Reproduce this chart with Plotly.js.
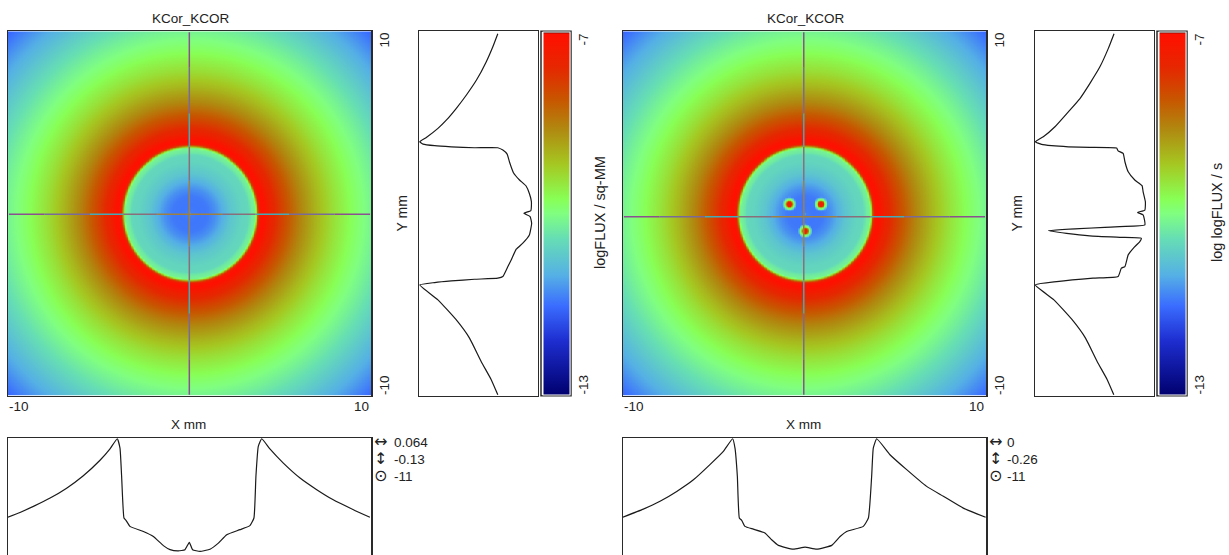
<!DOCTYPE html>
<html><head><meta charset="utf-8">
<script src="https://cdn.plot.ly/plotly-3.0.1.min.js"></script>
<style>html,body{margin:0;padding:0;background:#fff;overflow:hidden}#c{width:1229px;height:555px}</style>
</head><body><div id="c"></div>
<script>
// Radial flux table (mm, log flux)
const radiusMm = [0,0.1,0.5,1.0,1.4,1.8,2.2,2.8,3.2,3.38,3.58,3.66,3.74,3.82,4.0,4.4,5.2,6.1,7.0,7.9,9.0,10,11,12,13,14.2];
const radiusFlux = [-11.15,-11.4,-11.45,-11.42,-11.25,-11.0,-10.75,-10.55,-10.5,-10.25,-10.15,-9.3,-8.0,-7.3,-7.03,-7.43,-7.99,-8.58,-9.04,-9.44,-9.83,-10.13,-10.45,-10.8,-11.15,-11.6];
// Spots of the second map (mm)
const spotX = [-0.87,0.87,0];
const spotY = [0.54,0.54,-0.94];
const spotRadius = [0,0.13,0.19,0.24,0.31];
const spotFlux = [-7.3,-7.5,-9.0,-9.9,-10.3];

// Left map cross sections
const leftBottomX = [-10.02,-9.34,-8.6,-7.68,-6.77,-5.85,-4.93,-4.38,-3.98,-3.83,-3.74,-3.61,-3.5,-3.28,-2.54,-1.99,-1.44,-1.07,-0.62,-0.25,-0.01,0.17,0.58,1.13,1.59,2.05,2.78,3.33,3.55,3.66,3.79,3.98,4.43,5.17,6.09,7.01,7.92,9.03,9.94];
const leftBottomV = [-10.13,-9.94,-9.7,-9.37,-8.98,-8.49,-7.88,-7.43,-7.03,-7.4,-8.51,-10.16,-10.25,-10.49,-10.69,-10.89,-11.25,-11.41,-11.46,-11.41,-11.12,-11.41,-11.48,-11.39,-11.15,-10.82,-10.62,-10.46,-10.16,-8.51,-7.33,-7.03,-7.43,-7.99,-8.58,-9.04,-9.44,-9.83,-10.13];
const leftSideY = [9.87,9.14,8.32,7.31,6.49,5.76,5.12,4.67,4.17,3.94,3.81,3.72,3.66,3.61,3.61,3.48,3.26,2.84,2.24,1.84,1.51,1.1,0.65,0.16,0.01,-0.17,-0.54,-1.18,-1.63,-1.96,-2.55,-2.91,-3.46,-3.55,-3.61,-3.7,-3.79,-3.92,-4.74,-5.83,-6.84,-8.12,-9.12,-9.95];
const leftSideV = [-10.12,-9.92,-9.66,-9.27,-8.87,-8.47,-8.08,-7.75,-7.29,-7.03,-7.16,-7.62,-8.28,-9.2,-10.12,-10.32,-10.49,-10.58,-10.74,-10.98,-11.24,-11.37,-11.45,-11.43,-11.15,-11.4,-11.46,-11.37,-11.11,-10.85,-10.65,-10.52,-10.32,-10.12,-9.2,-8.28,-7.62,-7.03,-7.75,-8.47,-9.0,-9.46,-9.86,-10.12];

// Right map cross sections
const rightBottomX = [-10.02,-8.88,-7.96,-7.04,-6.12,-5.21,-4.47,-3.96,-3.83,-3.7,-3.59,-3.46,-3.28,-2.82,-2.18,-1.81,-1.44,-0.62,0.03,0.67,1.5,1.96,2.32,3.24,3.52,3.7,3.79,3.98,4.71,5.63,6.73,7.65,8.75,9.98];
const rightBottomV = [-10.13,-9.81,-9.5,-9.11,-8.65,-8.05,-7.53,-7.03,-7.4,-8.51,-10.16,-10.25,-10.49,-10.6,-10.75,-11.02,-11.24,-11.39,-11.31,-11.39,-11.24,-10.89,-10.69,-10.49,-10.16,-8.51,-7.4,-7.03,-7.66,-8.25,-8.91,-9.3,-9.77,-10.13];
const rightSideY = [9.87,9.05,8.05,7.13,6.31,5.58,4.76,4.21,3.94,3.79,3.72,3.66,3.63,3.59,3.44,3.3,2.84,2.29,1.84,1.53,1.2,0.65,0.19,0.06,-0.08,-0.63,-0.72,-0.94,-1.09,-1.23,-1.31,-1.36,-1.54,-1.91,-2.27,-2.91,-3.0,-3.46,-3.55,-3.74,-3.92,-4.74,-5.83,-6.84,-8.12,-9.12,-9.95];
const rightSideV = [-10.13,-9.9,-9.57,-9.17,-8.78,-8.32,-7.79,-7.33,-7.01,-7.26,-7.66,-8.32,-9.17,-10.23,-10.29,-10.49,-10.56,-10.69,-10.95,-11.24,-11.28,-11.37,-11.35,-11.06,-11.28,-11.35,-10.36,-7.53,-8.25,-9.17,-10.36,-11.21,-11.15,-10.89,-10.69,-10.56,-10.42,-10.29,-9.3,-7.86,-7.01,-7.75,-8.47,-9.0,-9.46,-9.86,-10.12];

// Texts
const mapTitle = "KCor_KCOR";
const xName = "X mm", yName = "Y mm";
const barNames = ["logFLUX / sq-MM","log logFLUX / s"];
const crossX = [-0.01,-0.04], crossY = [-0.045,-0.175];
const cursorText = [["0.064","-0.13","-11"],["0","-0.26","-11"]];
const barTicks = ["-7","-13"];

// Colour ramp
const rampAt = [0,0.15,0.245,0.33,0.43,0.5,0.54,0.635,0.73,0.815,0.9,0.99,0.995,1];
const rampColor = ["#00006e","#1e2ed0","#3a6cff","#55b0e5","#66ddb5","#80ff80","#88ff55","#a5c822","#b08a10","#c85500","#e52800","#ff1000","#ff1000","#000000"];
const colorscale = rampAt.map((a,i)=>[a,rampColor[i]]);

// Crosshair colour bands (radius limit in mm, inverted colour)
const bandLimit = [0,1.8,3.65,5.5,8,14.2];
const bandColor = ["#a08040","#8a6f7a","#45aab8","#7a6a9a","#8a5090"];

const W=1229,H=555;
const axisLine="#2a2a2a", ink="#222222", font="Liberation Sans, Arial, sans-serif";
const LO=-11.7, LOB=-11.62, HI=-7;
const TOP=31.3, BOT=395.7;

function lookup(xs,ys,v){
  if(v<=xs[0])return ys[0];
  for(let i=1;i<xs.length;i++){ if(v<=xs[i]){const t=(v-xs[i-1])/(xs[i]-xs[i-1]);return ys[i-1]+(ys[i]-ys[i-1])*t;} }
  return ys[ys.length-1];
}
function fluxAt(x,y,withSpots){
  let f=lookup(radiusMm,radiusFlux,Math.hypot(x,y));
  if(withSpots){
    for(let k=0;k<spotX.length;k++){
      const d=Math.hypot(x-spotX[k],y-spotY[k]);
      if(d<0.31) f=lookup(spotRadius,spotFlux,d);
      else if(d<0.38){const t=(d-0.31)/0.07; f=-10.3*(1-t)+f*t;}
    }
  }
  return f;
}
const N=243, grid=[];
for(let i=0;i<N;i++)grid.push(-10+20*i/(N-1));
function field(withSpots){return grid.map(y=>grid.map(x=>fluxAt(x,y,withSpots)));}

const layout={width:W,height:H,margin:{l:0,r:0,t:0,b:0,pad:0},paper_bgcolor:"#fff",plot_bgcolor:"#fff",showlegend:false,
  font:{family:font,size:13.5,color:ink},annotations:[],shapes:[]};
const data=[];
const px=v=>v/W, py=v=>1-v/H;
function ax(dom,range,anchor){return {domain:dom,range:range,anchor:anchor,showticklabels:false,ticks:"",showgrid:false,zeroline:false,showline:true,mirror:true,linecolor:axisLine,linewidth:1.5,fixedrange:true};}
function note(text,x,y,opt){layout.annotations.push(Object.assign({text:text,x:x,y:y,xref:"paper",yref:"paper",showarrow:false,xanchor:"center",yanchor:"middle",font:{family:font,size:13.5,color:ink},borderpad:0},opt||{}));}

[0,1].forEach(p=>{
  const o=p===0?0:615, o2=p===0?0:616;
  const n=p*3;
  const hx="x"+(n+1),hy="y"+(n+1),sx="x"+(n+2),sy="y"+(n+2),bx="x"+(n+3),by="y"+(n+3);
  const key=s=>s.replace(/^x/,"xaxis").replace(/^y/,"yaxis");
  layout[key(hx)]=ax([px(8+o),px(371+o)],[-10,10],hy);
  layout[key(hy)]=ax([py(BOT),py(TOP)],[-10,10],hx);
  layout[key(sx)]=ax([px(419+o2),px(537.7+o2)],[HI,LO],sy);
  layout[key(sy)]=ax([py(BOT),py(TOP)],[-10,10],sx);
  layout[key(bx)]=ax([px(8+o),px(371+o)],[-10,10],by);
  layout[key(by)]=ax([0,py(438)],[LOB,HI],bx);

  data.push({type:"heatmap",x:grid,y:grid,z:field(p===1),zmin:-13,zmax:-7,zsmooth:"best",colorscale:colorscale,xaxis:hx,yaxis:hy,hoverinfo:"skip",
    colorbar:{x:px(542.5+o2),xanchor:"left",xref:"paper",y:py(BOT)+0.5/H,yanchor:"bottom",yref:"paper",len:363.4,lenmode:"pixels",thickness:27,thicknessmode:"pixels",
      xpad:0,ypad:0,outlinecolor:"#ffffff",outlinewidth:1,borderwidth:0,ticks:"",showticklabels:false,tickvals:[]}});
  layout.shapes.push({type:"rect",xref:"paper",yref:"paper",x0:px(541+o2),x1:px(571+o2),y0:py(BOT),y1:py(TOP),line:{color:axisLine,width:1.5},fillcolor:"rgba(0,0,0,0)",layer:"below"});

  // crosshair
  bandColor.forEach((c,b)=>{
    const xs=[],ys=[],r0=bandLimit[b],r1=bandLimit[b+1],cx=crossX[p],cy=crossY[p];
    [-1,1].forEach(s=>{
      const a=s*r0,e=s*Math.min(r1,9.95);
      if(r0<10){
        xs.push(a,e,null);ys.push(cy,cy,null);
        xs.push(cx,cx,null);ys.push(a,e,null);
      }
    });
    data.push({type:"scatter",mode:"lines",x:xs,y:ys,xaxis:hx,yaxis:hy,line:{color:c,width:1.5},hoverinfo:"skip",connectgaps:false});
  });

  // profiles
  const sideV=p===0?leftSideV:rightSideV, sideY=p===0?leftSideY:rightSideY;
  const botX=p===0?leftBottomX:rightBottomX, botV=p===0?leftBottomV:rightBottomV;
  const prof={color:"#1a1a1a",width:1.2,shape:"spline",smoothing:0.4};
  data.push({type:"scatter",mode:"lines",x:sideV,y:sideY,xaxis:sx,yaxis:sy,line:prof,hoverinfo:"skip"});
  data.push({type:"scatter",mode:"lines",x:botX,y:botV,xaxis:bx,yaxis:by,line:prof,hoverinfo:"skip"});

  // texts
  note(mapTitle,px(191+o),py(18));
  note(xName,px(188.7+o),py(424));
  note("-10",px(8+o),py(406),{xanchor:"left"});
  note("10",px(370+o),py(406),{xanchor:"right"});
  note("10",px(384+o),py(32),{textangle:-90,yanchor:"top"});
  note("-10",px(384+o),py(396),{textangle:-90,yanchor:"bottom"});
  note(yName,px(401+o),py(213.5),{textangle:-90,font:{family:font,size:14,color:ink}});
  note(barTicks[0],px(582.5+o2),py(33),{textangle:-90,yanchor:"top"});
  note(barTicks[1],px(582.5+o2),py(396),{textangle:-90,yanchor:"bottom"});
  note(barNames[p],px(600+(p?617:0)),py(213),{textangle:-90,font:{family:font,size:14.5,color:ink}});
  ["\u2194","\u2195","\u2299"].forEach((g,i)=>{
    note(g,px(380.5+o),py(441.5+17*i),{font:{family:"DejaVu Sans",size:16,color:ink}});
    note(cursorText[p][i],px(393+(p?613:0)),py(442.5+17*i),{xanchor:"left"});
  });
});
Plotly.newPlot("c",data,layout,{staticPlot:true,displayModeBar:false});
</script></body></html>
